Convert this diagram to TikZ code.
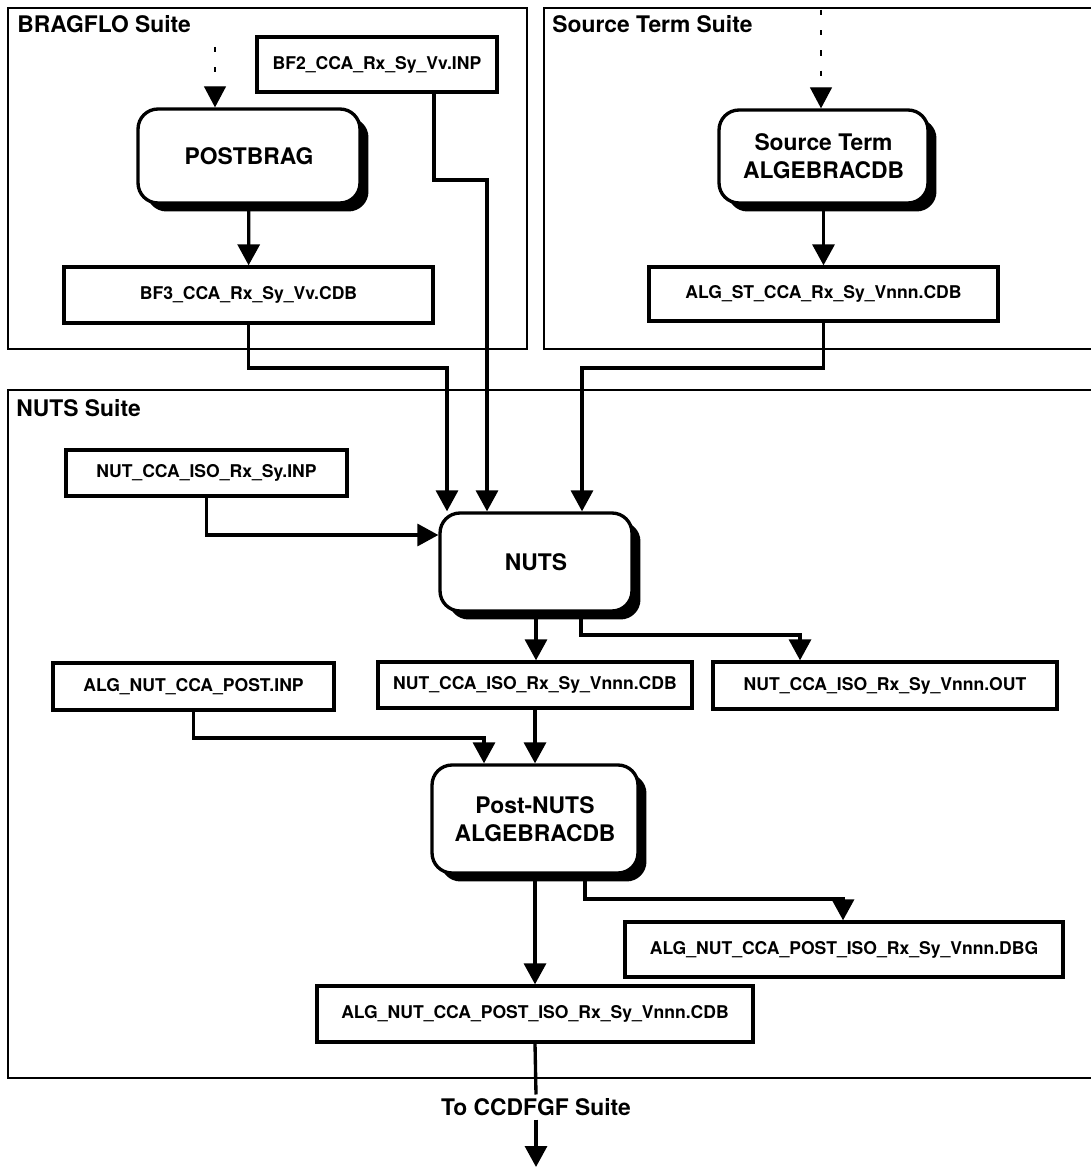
\documentclass[tikz,border=0pt]{standalone}
\usepackage{fontspec}
\setmainfont{TeX Gyre Heros}
\usetikzlibrary{calc,shadows,arrows.meta}

\begin{document}
\begin{tikzpicture}[
x=0.02cm, y=-0.02cm,
frame/.style={
    draw,
    line width=0.9pt
    },
suite/.style={
    anchor=base west,
    inner sep=0pt,
    font=\fontsize{13}{16}\selectfont\bfseries
    },
fbox/.style={
    draw,
    fill=white,
    line width=1.9pt,
    inner sep=0pt,
    font=\fontsize{10}{12}\selectfont\bfseries
    },
proc/.style={
    draw,
    fill=white,
    line width=1.9pt,
    rounded corners=0.4cm,
    inner sep=0pt,
    align=center,
    font=\fontsize{13}{16}\selectfont\bfseries,
    drop shadow={shadow xshift=0.17cm, shadow yshift=-0.17cm, fill=black, opacity=1}
    },
arr/.style={
    line width=1.9pt,
    -{Triangle[length=0.42cm, width=0.44cm]}
    },
dsh/.style={
    line width=0.7pt,
    dash pattern=on 3pt off 8.5pt,
    -{Triangle[length=0.42cm, width=0.44cm]}
    },
]
\useasboundingbox (0,0) rectangle (1090,1168);

% suites
\draw[frame] (8,8) rectangle (527,349);
\node[suite] (lbragflo) at (17,33) {BRAGFLO Suite};
\draw[frame] (544,8) rectangle (1100,349);
\node[suite] (lsource) at (552,33) {Source Term Suite};
\draw[frame] (8,390) rectangle (1100,1078);
\node[suite] (lnuts) at (16,417) {NUTS Suite};

% BRAGFLO
\node[fbox, minimum width=4.8cm, minimum height=1.1cm] (bfinp) at (377,64.5) {BF2\_CCA\_Rx\_Sy\_Vv.INP};
\node[proc, minimum width=4.44cm, minimum height=1.88cm] (postbrag) at (249,156) {POSTBRAG};
\node[fbox, minimum width=7.38cm, minimum height=1.12cm] (bfcdb) at (248.5,295) {BF3\_CCA\_Rx\_Sy\_Vv.CDB};

% Source Term
\node[proc, minimum width=4.18cm, minimum height=1.86cm] (stalg) at (823.5,156.5) {Source Term\\ALGEBRACDB};
\node[fbox, minimum width=6.98cm, minimum height=1.08cm] (stcdb) at (823.5,294) {ALG\_ST\_CCA\_Rx\_Sy\_Vnnn.CDB};

% NUTS
\node[fbox, minimum width=5.62cm, minimum height=0.92cm] (nutinp) at (206.5,473) {NUT\_CCA\_ISO\_Rx\_Sy.INP};
\node[proc, minimum width=3.84cm, minimum height=1.96cm] (nuts) at (536,562) {NUTS};
\node[fbox, minimum width=5.62cm, minimum height=0.94cm] (postinp) at (193.5,686.5) {ALG\_NUT\_CCA\_POST.INP};
\node[fbox, minimum width=6.28cm, minimum height=0.92cm] (nutcdb) at (535,685) {NUT\_CCA\_ISO\_Rx\_Sy\_Vnnn.CDB};
\node[fbox, minimum width=6.88cm, minimum height=0.94cm] (nutout) at (885,685.5) {NUT\_CCA\_ISO\_Rx\_Sy\_Vnnn.OUT};
\node[proc, minimum width=4.12cm, minimum height=2.16cm] (postnuts) at (535,819) {Post-NUTS\\ALGEBRACDB};
\node[fbox, minimum width=8.76cm, minimum height=1.1cm] (dbg) at (844,949.5) {ALG\_NUT\_CCA\_POST\_ISO\_Rx\_Sy\_Vnnn.DBG};
\node[fbox, minimum width=8.72cm, minimum height=1.12cm] (postcdb) at (535,1014) {ALG\_NUT\_CCA\_POST\_ISO\_Rx\_Sy\_Vnnn.CDB};
\node[inner sep=2pt, font=\fontsize{13}{16}\selectfont\bfseries] (toccdf) at (536,1107) {To CCDFGF Suite};

% bends
\coordinate (bfin) at (215,47);
\coordinate (stin) at (821,10);
\coordinate (b2) at (487,180);
\coordinate (b3) at (447,368);
\coordinate (s3) at (582,368);
\coordinate (n2) at (800,635);
\coordinate (p1) at (484,738);
\coordinate (p2) at (843,899);
\coordinate (fin) at (536,1167);

% connectors
\draw[dsh] (bfin) -- (bfin |- postbrag.north);
\draw[dsh] (stin) -- (stin |- stalg.north);
\draw[arr] (postbrag) -- (bfcdb);
\draw[arr] (stalg) -- (stcdb);
\draw[arr] ($(bfinp.south)+(57,0)$) |- (b2) -- (b2 |- nuts.north);
\draw[arr] (bfcdb.south) |- (b3) -- (b3 |- nuts.north);
\draw[arr] (stcdb.south) |- (s3) -- (s3 |- nuts.north);
\draw[arr] (nutinp.south) |- ($(nuts.west)+(0,-27)$);
\draw[arr] (nuts.south) -- (nuts.south |- nutcdb.north);
\draw[arr] ($(nuts.south)+(45,0)$) |- (n2) -- (n2 |- nutout.north);
\draw[arr] (postinp.south) |- (p1) -- (p1 |- postnuts.north);
\draw[arr] (nutcdb.south) -- (nutcdb.south |- postnuts.north);
\draw[arr] (postnuts.south) -- (postcdb.north);
\draw[arr] ($(postnuts.south)+(50,0)$) |- (p2) -- (p2 |- dbg.north);
\draw[line width=1.9pt] (postcdb.south) -- (toccdf.north);
\draw[arr] (toccdf.south) -- (fin);
\end{tikzpicture}
\end{document}
